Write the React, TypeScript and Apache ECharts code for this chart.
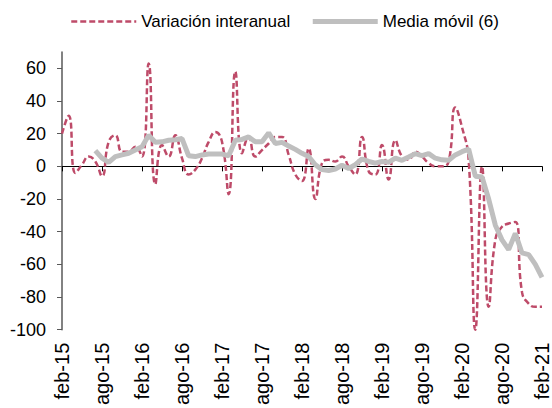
import React, { useEffect, useRef } from "react";
import * as echarts from "echarts";

const MONTHS = ["ene", "feb", "mar", "abr", "may", "jun", "jul", "ago", "sep", "oct", "nov", "dic"];
// feb-15 .. feb-21 (73 months)
const categories: string[] = [];
for (let k = 0; k < 73; k++) {
  const m = (1 + k) % 12;
  const y = 15 + Math.floor((1 + k) / 12);
  categories.push(`${MONTHS[m]}-${y}`);
}

const variacionInteranual = [
  20, 31, -4, 1, 6, 3, -6, 15, 19, 9,
  9, 12, 6, 63, -11, 13, 6, 19, 5, -5,
  -2, 5, 15, 21, 15, -17, 58, 8, 18, 6,
  10, 14, 18, 18, 7, -5, -9, 11, -20, 2,
  4, 3, 6, 0, -5, 18, -3, -5, 13, -8,
  16, 6, 4, 9, 6, 2, 0, 0, 3, 36,
  24, 4, -100, 0, -86, -45, -37, -35, -34, -77,
  -84, -86, -86,
];

const mediaMovil = [
  null, null, null, null, null, 9.6, 5, 2.5, 6, 7,
  8, 10, 12, 19, 14.7, 15, 16, 16.3, 17, 6.5,
  6, 7, 7.5, 7.5, 7.5, 6.5, 16, 16.5, 18, 15,
  15, 20.5, 14, 14.7, 12.5, 10.4, 8, 6, 1, -2,
  -2.5, -1.6, 0.7, -1.3, 1, 4.5, 3, 2, 3, 2.5,
  5, 3.7, 5.7, 7.8, 6.5, 7.8, 5, 4, 3.7, 7,
  9, 10.5, -6, -6.5, -20, -36, -45, -51, -41, -53,
  -54, -60, -68,
];

const yTicks = [-100, -80, -60, -40, -20, 0, 20, 40, 60];

const FONT = "Arial, 'Liberation Sans', sans-serif";

export default function App() {
  const ref = useRef<HTMLDivElement>(null);
  useEffect(() => {
    if (!ref.current) return;
    const chart = echarts.init(ref.current, undefined, { renderer: "svg" });
    chart.setOption({
      animation: false,
      backgroundColor: "#ffffff",
      textStyle: { fontFamily: FONT },
      legend: {
        left: 65,
        top: 8,
        itemWidth: 65,
        itemHeight: 14,
        itemGap: 20,
        itemStyle: { opacity: 0 },
        lineStyle: { width: "inherit" },
        textStyle: { fontSize: 17, color: "#000", fontFamily: FONT },
        data: ["Variación interanual", "Media móvil (6)"],
      },
      grid: { left: 62, right: 10, top: 52, bottom: 78 },
      xAxis: [
        {
          type: "category",
          data: categories,
          boundaryGap: false,
          position: "bottom",
          axisLine: { show: true, onZero: true, lineStyle: { color: "#000", width: 1 } },
          axisTick: { show: true, interval: 5, length: 5, lineStyle: { color: "#000" } },
          axisLabel: { show: false },
          splitLine: { show: false },
        },
        {
          type: "category",
          data: categories,
          boundaryGap: false,
          position: "bottom",
          axisLine: { show: false, onZero: false },
          axisTick: { show: false },
          axisLabel: {
            show: true,
            interval: 5,
            rotate: 90,
            margin: 13,
            fontSize: 20,
            color: "#000",
            fontFamily: FONT,
          },
          splitLine: { show: false },
        },
      ],
      yAxis: {
        type: "value",
        min: -100,
        max: 70,
        interval: 10,
        axisLine: { show: true, lineStyle: { color: "#595959", width: 1.5 } },
        axisTick: { show: true, length: 5, customValues: yTicks, lineStyle: { color: "#595959" } },
        axisLabel: {
          customValues: yTicks,
          margin: 16,
          fontSize: 18,
          color: "#000",
          fontFamily: FONT,
        },
        splitLine: { show: false },
      },
      series: [
        {
          name: "Variación interanual",
          type: "line",
          xAxisIndex: 0,
          data: variacionInteranual,
          smooth: 0.5,
          symbol: "none",
          lineStyle: { color: "#BE4B69", width: 2.5, type: [6, 3] },
          itemStyle: { color: "#BE4B69" },
        },
        {
          name: "Media móvil (6)",
          type: "line",
          xAxisIndex: 0,
          data: mediaMovil,
          symbol: "none",
          lineStyle: { color: "#BFBFBF", width: 5 },
          itemStyle: { color: "#BFBFBF" },
        },
      ],
    });
    return () => chart.dispose();
  }, []);
  return <div ref={ref} style={{ width: 552, height: 408, position: "fixed", left: 0, top: 0 }} />;
}
